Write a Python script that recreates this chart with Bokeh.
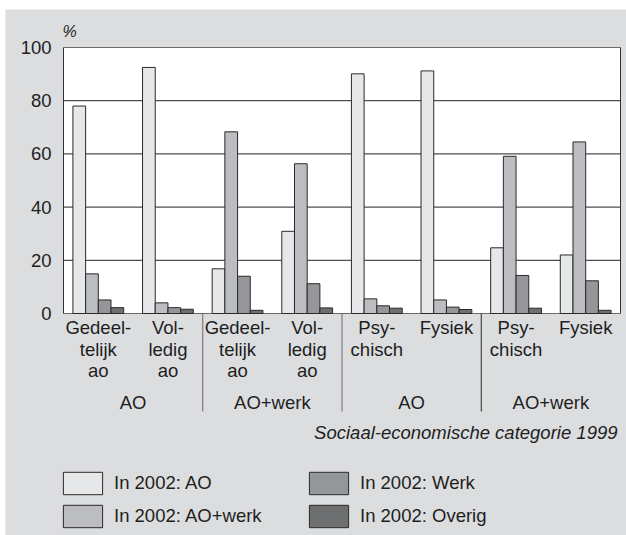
from bokeh.plotting import figure
from bokeh.models import Legend, LegendItem, Range1d, ColumnDataSource
from bokeh.core.properties import value
from bokeh.embed import file_html
from bokeh.resources import INLINE

# ---------------- data ----------------
sub_labels = [["Gedeel-", "telijk", "ao"], ["Vol-", "ledig", "ao"],
              ["Gedeel-", "telijk", "ao"], ["Vol-", "ledig", "ao"],
              ["Psy-", "chisch"], ["Fysiek"],
              ["Psy-", "chisch"], ["Fysiek"]]
group_labels = ["AO", "AO+werk", "AO", "AO+werk"]
series_names = ["In 2002: AO", "In 2002: AO+werk", "In 2002: Werk", "In 2002: Overig"]
ao_vals      = [78.0, 92.5, 16.8, 30.9, 90.1, 91.2, 24.7, 22.0]
aowerk_vals  = [14.9, 4.0, 68.3, 56.3, 5.5, 5.1, 59.1, 64.5]
werk_vals    = [5.1, 2.2, 14.0, 11.2, 2.9, 2.4, 14.3, 12.3]
overig_vals  = [2.2, 1.6, 1.2, 2.1, 2.0, 1.5, 2.0, 1.2]
y_ticks = [0, 20, 40, 60, 80, 100]
unit_label = "%"
x_title = "Sociaal-economische categorie 1999"

# ---------------- style / layout ----------------
FONT = value("Liberation Sans")
FS = "18.5px"
TXT = "#1e1e1e"
BG = "#dcdddf"
colors = ["#e6e7e9", "#bcbdc0", "#959699", "#6e6f71"]
W, H = 626, 535
FL, FT = 5, 9                                          # white strip left / top
N = len(ao_vals)
PLOT_L, PLOT_R, PLOT_T, PLOT_B = 63, 620, 47, 313      # plot area in canvas px
PXX = (PLOT_R - PLOT_L) / N          # px per x unit
PXY = (PLOT_B - PLOT_T) / 100.0      # px per y unit
BAR_W = 12.7 / PXX

x_range = Range1d(-(PLOT_L - FL) / PXX, N + (W - PLOT_R) / PXX)
y_range = Range1d(-(H - PLOT_B) / PXY, 100 + (PLOT_T - FT) / PXY)

p = figure(width=W, height=H, x_range=x_range, y_range=y_range,
           output_backend="svg", toolbar_location=None,
           x_axis_location=None, y_axis_location=None,
           min_border_left=FL, min_border_top=FT, min_border_right=0,
           min_border_bottom=0, background_fill_color=BG,
           border_fill_color="white", outline_line_color=None)
p.grid.visible = False

def ydata(px_below_zero):
    return -px_below_zero / PXY

# plot area (white, gray top/bottom edges, dark sides)
p.quad(left=0, right=N, bottom=y_ticks[0], top=y_ticks[-1],
       fill_color="white", line_color=None)
p.segment(x0=[0, 0], x1=[N, N], y0=[y_ticks[0], y_ticks[-1]], y1=[y_ticks[0], y_ticks[-1]],
          line_color="#6a6a6a", line_width=1)
p.segment(x0=[0, N], x1=[0, N], y0=[y_ticks[0]] * 2, y1=[y_ticks[-1]] * 2,
          line_color="#333333", line_width=1)
# gridlines
inner = y_ticks[1:-1]
p.segment(x0=[0] * len(inner), x1=[N] * len(inner), y0=inner, y1=inner,
          line_color="#222222", line_width=1)
# y tick labels
p.text(x=[0] * len(y_ticks), y=y_ticks, text=[str(t) for t in y_ticks],
       x_offset=-12, text_align="right", text_baseline="middle",
       text_font=FONT, text_font_size=FS, text_color=TXT)
# unit label
p.text(x=[0], y=[100 + 16.5 / PXY], text=[unit_label], x_offset=-1,
       text_align="left", text_baseline="middle", text_font=FONT,
       text_font_size="16px", text_font_style="italic", text_color=TXT)

# bars
all_vals = [ao_vals, aowerk_vals, werk_vals, overig_vals]
renderers = []
for k, vals in enumerate(all_vals):
    xs = [i + 0.5 + (k - 1.5) * BAR_W for i in range(len(vals))]
    src = ColumnDataSource(dict(x=xs, top=vals))
    r = p.vbar(x="x", top="top", bottom=0, width=BAR_W, source=src,
               fill_color=colors[k], line_color="#2a2a2a", line_width=1)
    renderers.append(r)

# category labels
lx, ly, lt = [], [], []
for i, lines in enumerate(sub_labels):
    for j, t in enumerate(lines):
        lx.append(i + 0.5)
        ly.append(ydata(14 + 21.5 * j))
        lt.append(t)
p.text(x=lx, y=ly, text=lt, text_align="center", text_baseline="middle",
       text_font=FONT, text_font_size=FS, text_color=TXT)

# group labels
gx = [2 * g + 1 for g in range(len(group_labels))]
p.text(x=gx, y=[ydata(89)] * len(gx), text=group_labels, text_align="center",
       text_baseline="middle", text_font=FONT, text_font_size=FS, text_color=TXT)

# group separators
sx = [2 * g for g in range(1, len(group_labels))]
p.segment(x0=sx, x1=sx, y0=[0] * len(sx), y1=[ydata(98)] * len(sx),
          line_color=["#6a6a6a", "#6a6a6a", "#2a2a2a"], line_width=1)

# x title
p.text(x=[N], y=[ydata(119)], text=[x_title], x_offset=-3, text_align="right",
       text_baseline="middle", text_font=FONT, text_font_size=FS,
       text_font_style="italic", text_color=TXT)

# legends (two columns)
def make_legend(idx, vx):
    return Legend(items=[LegendItem(label=series_names[i], renderers=[renderers[i]]) for i in idx],
                  location=(vx, 5), orientation="vertical",
                  glyph_width=49, glyph_height=28, label_standoff=7, spacing=5,
                  padding=0, margin=0, border_line_alpha=0, background_fill_alpha=0,
                  label_text_font="Liberation Sans", label_text_font_size=FS,
                  label_text_color=TXT, label_height=28)

p.add_layout(make_legend([0, 1], 53))
p.add_layout(make_legend([2, 3], 299))

open("out.html", "w").write(file_html(p, INLINE))
